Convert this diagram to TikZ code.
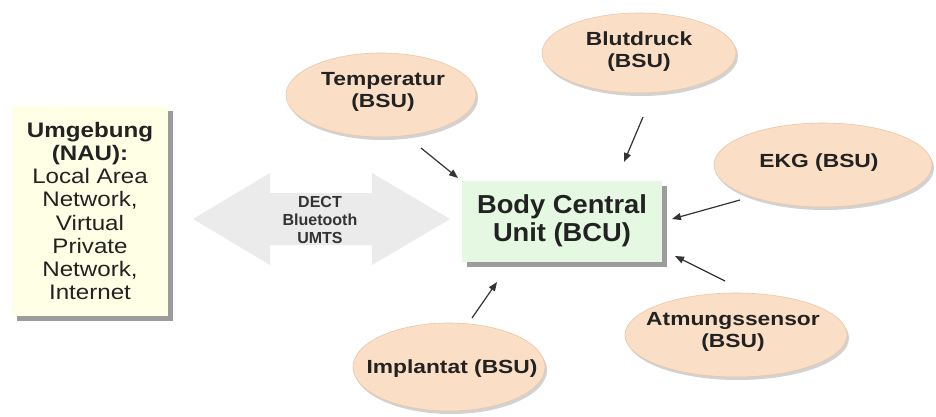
\documentclass[tikz,border=0pt]{standalone}
\usepackage{fontspec}
\setmainfont{Liberation Sans}
\newfontfamily\ellfont{Liberation Sans}[FakeStretch=1.2]
\newfontfamily\naufont{Liberation Sans}[FakeStretch=1.15]
\newfontfamily\bcufont{Liberation Sans}[FakeStretch=1.05]
\usetikzlibrary{shapes.geometric,shadows,arrows.meta}
\definecolor{peach}{HTML}{FBDEC6}
\definecolor{peachdraw}{HTML}{E9C7A6}
\definecolor{bcugreen}{HTML}{E4F8E2}
\definecolor{nauyellow}{HTML}{FFFFE6}
\definecolor{txt}{HTML}{222222}
\definecolor{arrowgray}{HTML}{EBEBEB}
\definecolor{conn}{HTML}{333333}
\tikzset{
  bsu/.style={ellipse, fill=peach, draw=peachdraw, line width=0.6pt, inner sep=0pt,
     drop shadow={shadow xshift=2pt, shadow yshift=-3pt, opacity=0.35}},
  bsutext/.style={align=center, inner sep=0pt, text=txt,
     font=\ellfont\fontsize{19}{22}\selectfont\bfseries},
  boxshadow/.style={drop shadow={shadow xshift=5pt, shadow yshift=-5pt, opacity=0.55, fill=black!70}},
  conn/.style={draw=conn, line width=1.2pt, -{Triangle[length=9pt,width=7pt]}},
}
\begin{document}
\begin{tikzpicture}[x=1pt,y=-1pt]
\useasboundingbox (0,0) rectangle (936,417);
\fill[white] (0,0) rectangle (936,417);

% left box
\node[boxshadow, fill=nauyellow, minimum width=156pt, minimum height=210pt, inner sep=0pt,
      align=center, text=txt, font=\naufont\fontsize{21}{23.2}\selectfont] (nau) at (90,211)
  {\bfseries Umgebung\\\bfseries (NAU):\\Local Area\\Network,\\Virtual\\Private\\Network,\\Internet};

% double arrow
\fill[arrowgray] (193,219) -- (270,173) -- (270,193) -- (372,193) -- (372,173) -- (450,219)
   -- (372,265) -- (372,245) -- (270,245) -- (270,265) -- cycle;
\node[align=center, text=conn, font=\fontsize{16}{18}\selectfont\bfseries] (tech) at (320,220)
  {DECT\\Bluetooth\\UMTS};

% BCU
\node[boxshadow, fill=bcugreen, minimum width=200pt, minimum height=81pt, inner sep=0pt,
      align=center, text=txt, font=\bcufont\fontsize{26}{28}\selectfont\bfseries] (bcu) at (562,221)
  {Body Central\\Unit (BCU)};

% BSU ellipses
\node[bsu, minimum width=190pt, minimum height=84pt] (temp) at (381,95) {};
\node[bsutext] (tempT) at (383,92) {Temperatur\\(BSU)};
\node[bsu, minimum width=194pt, minimum height=80pt] (blut) at (639,53) {};
\node[bsutext] (blutT) at (639,52) {Blutdruck\\(BSU)};
\node[bsu, minimum width=218pt, minimum height=84pt] (ekg) at (823,165) {};
\node[bsutext] (ekgT) at (819,163) {EKG (BSU)};
\node[bsu, minimum width=222pt, minimum height=84pt] (atm) at (736,335) {};
\node[bsutext] (atmT) at (733,332) {Atmungssensor\\(BSU)};
\node[bsu, minimum width=192pt, minimum height=88pt] (impl) at (449,367) {};
\node[bsutext] (implT) at (452,369) {Implantat (BSU)};

% connector ends
\coordinate (tempA) at (421,148);
\coordinate (tempB) at (458,178);
\coordinate (blutA) at (643,117);
\coordinate (blutB) at (624,162);
\coordinate (ekgA) at (740,200);
\coordinate (ekgB) at (672,219);
\coordinate (atmA) at (725,281);
\coordinate (atmB) at (675,256);
\coordinate (implA) at (472,318);
\coordinate (implB) at (497,282);

\draw[conn] (tempA) -- (tempB);
\draw[conn] (blutA) -- (blutB);
\draw[conn] (ekgA) -- (ekgB);
\draw[conn] (atmA) -- (atmB);
\draw[conn] (implA) -- (implB);
\end{tikzpicture}
\end{document}
